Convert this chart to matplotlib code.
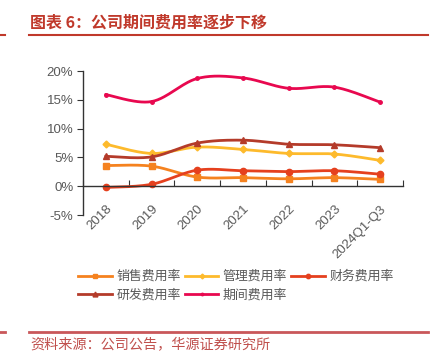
import numpy as np
import matplotlib.pyplot as plt
from matplotlib.lines import Line2D

plt.rcParams['font.family'] = ['Liberation Sans', 'Noto Sans CJK SC', 'DejaVu Sans']

years = ["2018", "2019", "2020", "2021", "2022", "2023", "2024Q1-Q3"]
sales = [3.6, 3.5, 1.6, 1.5, 1.3, 1.5, 1.2]       # 销售费用率
admin = [7.3, 5.7, 6.8, 6.4, 5.7, 5.6, 4.5]       # 管理费用率
finance = [-0.2, 0.35, 2.8, 2.7, 2.55, 2.7, 2.1]  # 财务费用率
rnd = [5.2, 5.1, 7.5, 8.0, 7.3, 7.2, 6.7]         # 研发费用率
period = [15.9, 14.7, 18.7, 18.8, 17.0, 17.2, 14.6]  # 期间费用率
names = ["销售费用率", "管理费用率", "财务费用率", "研发费用率", "期间费用率"]


def smooth(x, y, n=30):
    # catmull-rom style bezier, roughly what excel's smoothed line does
    x = np.asarray(x, float)
    y = np.asarray(y, float)
    xs, ys = [], []
    for i in range(len(x) - 1):
        p0 = (x[max(i - 1, 0)], y[max(i - 1, 0)])
        p1 = (x[i], y[i])
        p2 = (x[i + 1], y[i + 1])
        p3 = (x[min(i + 2, len(x) - 1)], y[min(i + 2, len(x) - 1)])
        c1 = (p1[0] + (p2[0] - p0[0]) / 6, p1[1] + (p2[1] - p0[1]) / 6)
        c2 = (p2[0] - (p3[0] - p1[0]) / 6, p2[1] - (p3[1] - p1[1]) / 6)
        t = np.linspace(0, 1, n)
        for k in range(2):
            a, b, c, d = p1[k], c1[k], c2[k], p2[k]
            v = (1 - t) ** 3 * a + 3 * (1 - t) ** 2 * t * b + 3 * (1 - t) * t ** 2 * c + t ** 3 * d
            (xs if k == 0 else ys).append(v)
    return np.concatenate(xs), np.concatenate(ys)


fig = plt.figure(figsize=(4.37, 3.55), dpi=100)
ax = fig.add_axes([0.19, 0.394, 0.732, 0.406])

x = np.arange(len(years))
series = [
    (sales, '#F5821F', 's', 4.5),
    (admin, '#FDBA2C', 'D', 3.5),
    (finance, '#E5401E', 'o', 4.5),
    (rnd, '#B43B2A', '^', 5),
    (period, '#E8084F', 'o', 2.5),
]
handles = []
for (vals, col, mk, ms), nm in zip(series, names):
    sx, sy = smooth(x, vals)
    ax.plot(sx, sy, color=col, lw=2)
    ax.plot(x, vals, ls='none', marker=mk, ms=ms, color=col)
    handles.append(Line2D([], [], color=col, lw=2, marker=mk, ms=ms * 0.7, label=nm))

ax.set_xlim(-0.5, len(years) - 0.5)
ax.set_ylim(-5, 20)
ax.set_yticks([-5, 0, 5, 10, 15, 20])
ax.set_yticklabels(["-5%", "0%", "5%", "10%", "15%", "20%"])

ax.spines['top'].set_visible(False)
ax.spines['right'].set_visible(False)
ax.spines['bottom'].set_position(('data', 0))
for s in ['left', 'bottom']:
    ax.spines[s].set_color('#333333')
    ax.spines[s].set_linewidth(1)

ax.set_xticks(np.arange(len(years) + 1) - 0.5)
ax.set_xticklabels([])
ax.set_xticks(x, minor=True)
ax.set_xticklabels(years, minor=True, rotation=45, ha='right', va='top',
                   rotation_mode='anchor')
ax.tick_params(axis='x', which='major', direction='in', length=4, color='#333333')
ax.tick_params(axis='x', which='minor', length=0, pad=12, labelsize=9.5, labelcolor='#595959')
ax.tick_params(axis='y', direction='out', length=4, color='#333333', labelsize=9.5,
               labelcolor='#595959', pad=3)

order = [0, 3, 1, 4, 2]
fig.legend([handles[i] for i in order], [names[i] for i in order],
           loc='upper left', bbox_to_anchor=(72 / 437, 1 - 264 / 355), ncol=3, frameon=False,
           fontsize=9.3, handlelength=2.6, handletextpad=0.35, columnspacing=0.3,
           labelspacing=0.5, borderpad=0, labelcolor='#595959')

red = '#C0392B'
fig.text(30 / 437, 1 - 23 / 355, "图表 6：公司期间费用率逐步下移", color=red,
         fontsize=11.5, fontweight='bold', va='center', ha='left',
         family=['Noto Sans CJK SC', 'DejaVu Sans'])
fig.add_artist(Line2D([29 / 437, 428 / 437], [1 - 35.3 / 355] * 2, color=red, lw=1.5))
fig.add_artist(Line2D([0, 5 / 437], [1 - 35.3 / 355] * 2, color=red, lw=1.5))
fig.add_artist(Line2D([29 / 437, 428 / 437], [1 - 332 / 355] * 2, color='#C9575A', lw=2))
fig.add_artist(Line2D([0, 5 / 437], [1 - 332 / 355] * 2, color='#C9575A', lw=2))
fig.text(30 / 437, 1 - 345 / 355, "资料来源：公司公告，华源证券研究所", color='#C0504D',
         fontsize=10.2, va='center', ha='left', family=['Noto Sans CJK SC', 'DejaVu Sans'])

fig.savefig("out.png", dpi=100)
